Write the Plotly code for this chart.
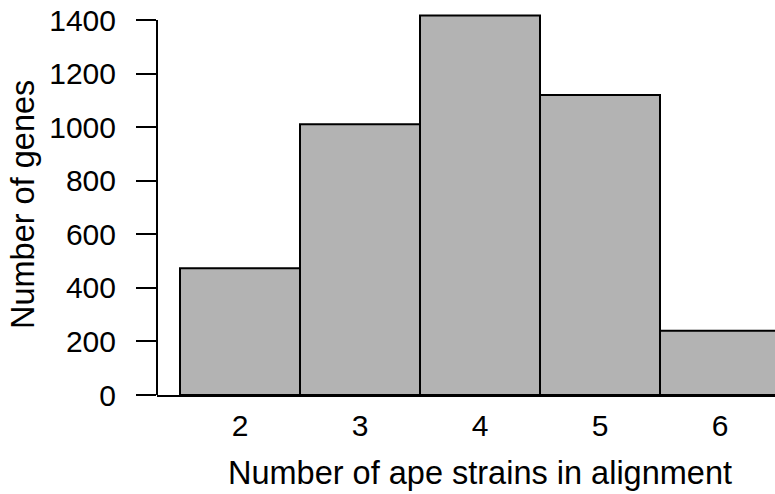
import plotly.graph_objects as go

strains = [2, 3, 4, 5, 6]
genes = [473, 1011, 1417, 1120, 240]
y_ticks = [0, 200, 400, 600, 800, 1000, 1200, 1400]
x_title = "Number of ape strains in alignment"
y_title = "Number of genes"

FONT = "Liberation Sans, Arial, Helvetica, sans-serif"

fig = go.Figure()
fig.add_trace(go.Bar(
    x=strains, y=genes, width=1,
    marker=dict(color="#b3b3b3", line=dict(color="black", width=2)),
))

fig.update_layout(
    width=775, height=494,
    margin=dict(l=157, r=0, t=0, b=99, autoexpand=False),
    paper_bgcolor="white", plot_bgcolor="white",
    showlegend=False,
    font=dict(family=FONT, size=30, color="black"),
    xaxis=dict(
        range=[1.3083, 6.4583], tickvals=strains, ticktext=[str(s) for s in strains],
        ticks="", showgrid=False, zeroline=False,
        showline=True, linecolor="black", linewidth=2,
        ticklabelstandoff=3, tickfont=dict(size=30),
        automargin=False,
    ),
    yaxis=dict(
        range=[0, 1474.67], tickvals=y_ticks,
        ticks="outside", ticklen=20, tickwidth=2, tickcolor="black",
        showgrid=False, zeroline=False, showline=False,
        ticklabelstandoff=14, tickfont=dict(size=30),
        automargin=False,
    ),
    shapes=[dict(type="line", xref="paper", yref="y", x0=0, x1=0, y0=0, y1=1400,
                 line=dict(color="black", width=2))],
    annotations=[
        dict(text=x_title, xref="paper", yref="paper", x=0.5227, y=-0.1975,
             xanchor="center", yanchor="middle", showarrow=False,
             font=dict(size=32.5)),
        dict(text=y_title, xref="paper", yref="paper", x=-0.2168, y=0.481,
             xanchor="center", yanchor="middle", showarrow=False, textangle=-90,
             font=dict(size=32.5)),
    ],
)

fig.write_html("out.html")
